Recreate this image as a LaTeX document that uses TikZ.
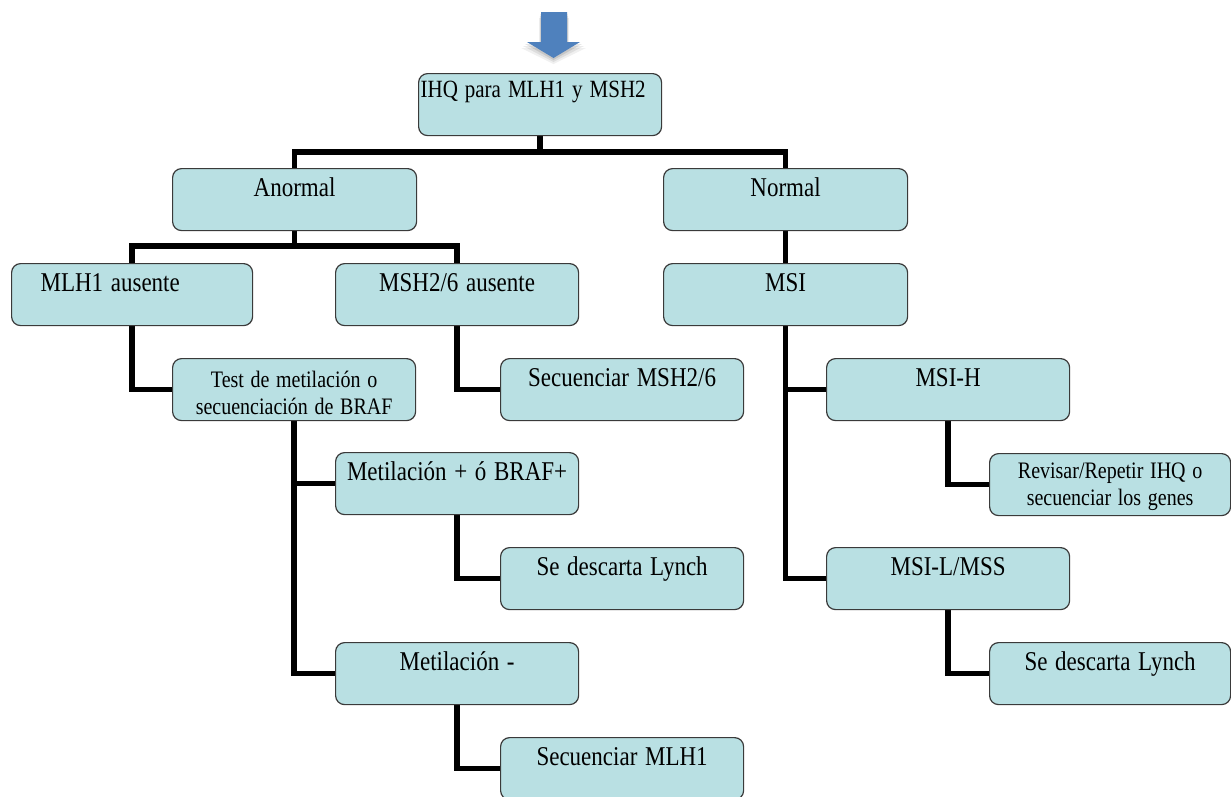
\documentclass[tikz,border=0pt]{standalone}
\usepackage{fontspec}
\setmainfont{Liberation Serif}
\usepackage{graphicx}
\definecolor{boxfill}{HTML}{B9E0E3}
\definecolor{boxline}{HTML}{3A3A3A}
\definecolor{arrowblue}{HTML}{4F81BD}
\newcommand{\vs}[1]{\scalebox{1}[1.18]{#1}}
\pgfdeclarelayer{bg}
\pgfdeclarelayer{paper}
\pgfsetlayers{paper,bg,main}
\begin{document}
\begin{tikzpicture}[x=1pt,y=-1pt,
  box/.style={draw=boxline, fill=boxfill, rounded corners=9pt, line width=1.2pt,
    anchor=north west, inner xsep=0pt, inner ysep=0pt, text width=243pt,
    align=center, text height=28pt, text depth=34pt,
    font=\fontsize{23}{27}\selectfont},
  two/.style={font=\fontsize{20}{27}\selectfont, text height=29pt, text depth=33pt},
  conn/.style={line width=5.5pt, black}]
\useasboundingbox (0,0) rectangle (1231,796);
\begin{pgfonlayer}{paper}
\fill[white] (0,0) rectangle (1231,796);
\end{pgfonlayer}
\clip (0,0) rectangle (1231,796);

% top arrow with soft shadow
\foreach \d/\o in {6/0.06,4/0.08,2/0.1}{
  \fill[black,fill opacity=\o] (541-\d*0.3,12+\d) -- (567+\d*0.3,12+\d) -- (567+\d*0.3,42+\d) -- (580+\d,42+\d) -- (553.5,58+\d) -- (527-\d,42+\d) -- (541-\d*0.3,42+\d) -- cycle;
}
\fill[arrowblue] (541,12) -- (567,12) -- (567,42) -- (580,42) -- (553.5,58) -- (527,42) -- (541,42) -- cycle;

% boxes
\node[box, align=left, inner xsep=2pt, text width=239pt, text height=24pt, text depth=38pt,
  font=\fontsize{21}{25}\selectfont] (ihq) at (418,73) {\vs{IHQ para MLH1 y MSH2}};
\node[box, text width=244pt] (anormal) at (172,168) {\vs{Anormal}};
\node[box, text width=244pt] (normal) at (663,168) {\vs{Normal}};
\node[box, align=left, inner xsep=29pt, text width=183pt] (mlh1) at (11,263) {\vs{MLH1 ausente}};
\node[box] (msh2) at (335,263) {\vs{MSH2/6 ausente}};
\node[box, text width=244pt] (msi) at (663,263) {\vs{MSI}};
\node[box, two] (test) at (172,358) {\vs{Test de metilación o}\\\vs{secuenciación de BRAF}};
\node[box] (secmsh2) at (500,358) {\vs{Secuenciar MSH2/6}};
\node[box] (msih) at (826,358) {\vs{MSI-H}};
\node[box] (metp) at (335,452) {\vs{Metilación + ó BRAF+}};
\node[box, two, text width=241pt, text height=25pt, text depth=37pt] (revisar) at (989,453) {\vs{Revisar/Repetir IHQ o}\\\vs{secuenciar los genes}};
\node[box] (desc1) at (500,547) {\vs{Se descarta Lynch}};
\node[box] (msil) at (826,547) {\vs{MSI-L/MSS}};
\node[box] (metm) at (335,642) {\vs{Metilación -}};
\node[box, text width=241pt] (desc2) at (989,642) {\vs{Se descarta Lynch}};
\node[box] (secmlh1) at (500,737) {\vs{Secuenciar MLH1}};

% connectors
\coordinate (j1) at (ihq.south |- 0,152);
\coordinate (j2) at (anormal.south |- 0,246);
\begin{pgfonlayer}{bg}
\draw[conn] (ihq.south) -- (j1);
\draw[conn] (anormal.north) |- (j1) -| (normal.north);
\draw[conn] (anormal.south) -- (j2);
\draw[conn] (mlh1.north) |- (j2) -| (msh2.north);
\draw[conn] (normal.south) -- (msi.north);
\draw[conn] (mlh1.south) |- (test.west);
\draw[conn] (msh2.south) |- (secmsh2.west);
\draw[conn] (test.south) |- (metp.west);
\draw[conn] (test.south) |- (metm.west);
\draw[conn] (metp.south) |- (desc1.west);
\draw[conn] (metm.south) |- (secmlh1.west);
\draw[conn] (msi.south) |- (msih.west);
\draw[conn] (msi.south) |- (msil.west);
\draw[conn] (msih.south) |- (revisar.west);
\draw[conn] (msil.south) |- (desc2.west);
\end{pgfonlayer}
\end{tikzpicture}
\end{document}
